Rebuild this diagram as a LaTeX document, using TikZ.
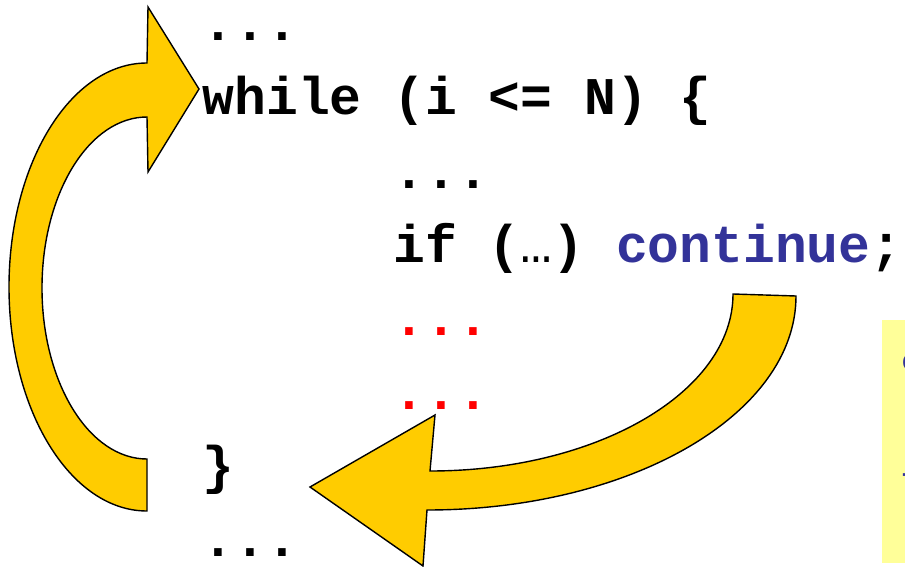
\documentclass[tikz,border=0pt]{standalone}
\usepackage{fontspec}
\setmonofont{Liberation Mono}
\definecolor{arrowyellow}{HTML}{FFCC00}
\definecolor{codeblue}{HTML}{333399}
\definecolor{codered}{HTML}{FF0000}
\definecolor{notebox}{HTML}{FFFF99}
\begin{document}
\begin{tikzpicture}[x=1pt,y=-1pt,
  code/.style={anchor=base west, inner sep=0pt, font=\fontsize{53}{53}\selectfont\ttfamily\bfseries},
  notetext/.style={anchor=base west, inner sep=0pt, text=codeblue, font=\fontsize{30}{30}\selectfont\ttfamily\bfseries},
  bigarrow/.style={fill=arrowyellow, draw=black, line width=1.4pt, line join=miter}]
\useasboundingbox (0,0) rectangle (905,567);
% note box at right edge (cut off)
\fill[notebox] (882,320) rectangle (910,563);
\begin{scope}
\clip (882,320) rectangle (905,563);
\node[notetext] (n1) at (901.5,370) {c};
\node[notetext] (n2) at (900.5,489) {t};
\end{scope}
% code
\node[code] (l1) at (202.5,41) {...};
\node[code] (l2) at (202.5,114.5) {while (i <= N) \{};
\node[code] (l3) at (393.3,188) {...};
\node[code] (l4) at (393.3,262) {if ({\mdseries…}) \textcolor{codeblue}{continue};};
\node[code, text=codered] (l5) at (393.3,335.5) {...};
\node[code, text=codered] (l6) at (393.3,409) {...};
\node[code] (l7) at (202.5,483) {\}};
\node[code] (l8) at (202.5,556) {...};
% loop-back arrow
\draw[bigarrow] (147,511) arc[start angle=90, end angle=270, x radius=138, y radius=224]
  -- (148,7) -- (199,89) -- (148,172) -- (147,117)
  arc[start angle=270, end angle=90, x radius=105, y radius=171] -- cycle;
% continue arrow
\draw[bigarrow] (733,294) -- (796,296)
  arc[start angle=0, end angle=90, x radius=369, y radius=214]
  -- (423,566) -- (310,487) -- (435,415) -- (430,471)
  arc[start angle=90, end angle=0, x radius=303, y radius=177] -- cycle;
\end{tikzpicture}
\end{document}
